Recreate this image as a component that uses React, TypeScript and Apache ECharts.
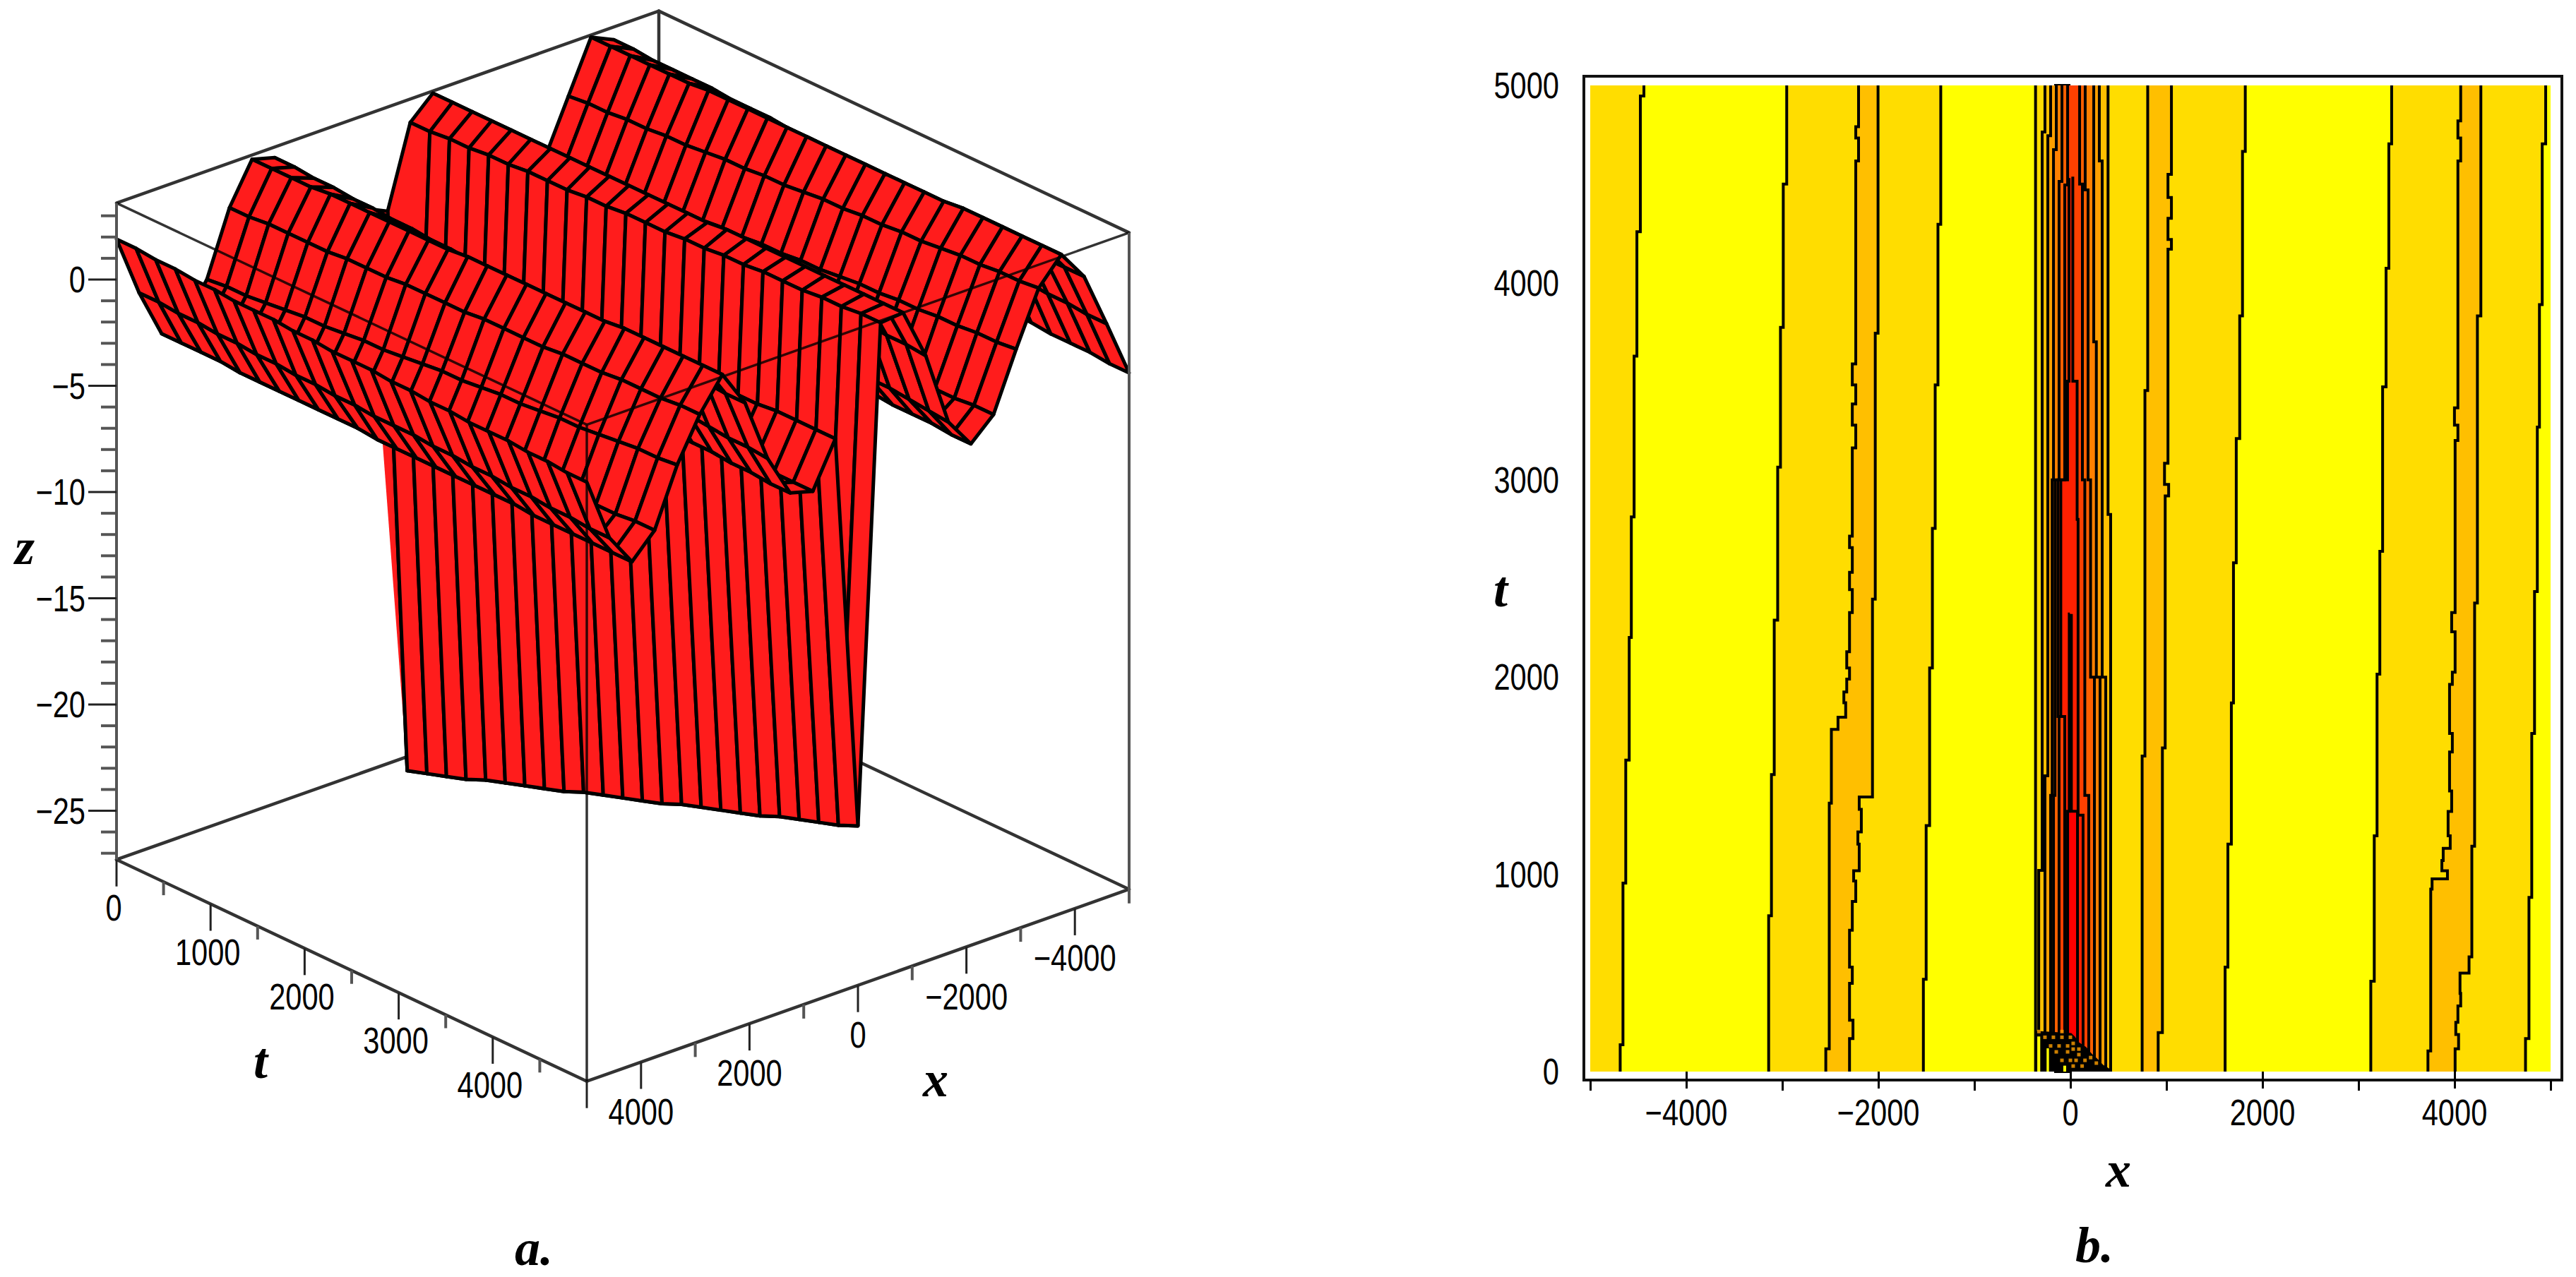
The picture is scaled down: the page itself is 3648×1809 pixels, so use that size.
import React, { useEffect, useRef } from "react";
import * as echarts from "echarts";

/* ---------- panel a: surface ---------- */
const surfaceX = [5000, 4583, 4167, 3750, 3333, 2917, 2500, 2083, 1667, 1250, 833, 417, 0, -417, -833, -1250, -1667, -2083, -2500, -2917, -3333, -3750, -4167, -4583, -5000];
const surfaceT = [0, 208, 417, 625, 833, 1042, 1250, 1458, 1667, 1875, 2083, 2292, 2500, 2708, 2917, 3125, 3333, 3542, 3750, 3958, 4167, 4375, 4583, 4792, 5000];
const surfaceZ = [
  [1.9, -1.0, -3.3, -3.1, -1.5, 1.5, 3.4, 3.1, 0.6, -2.0, -3.4, -0.8, -1.3, 2.5, 3.5, 2.4, -0.2, -2.9, -3.6, -1.3, 1.1, 3.5, 3.0, 0.8, -2.2],
  [1.9, -1.0, -3.3, -3.1, -1.4, 1.5, 3.4, 3.1, 0.5, -2.0, -3.4, -1.5, -27.2, 2.5, 3.5, 2.3, -0.3, -2.9, -3.6, -1.2, 1.2, 3.5, 3.0, 0.8, -2.2],
  [1.8, -1.1, -3.3, -3.1, -1.4, 1.6, 3.4, 3.0, 0.5, -2.1, -3.4, -1.5, -26.9, 2.6, 3.5, 2.3, -0.4, -3.0, -3.5, -1.2, 1.2, 3.5, 2.9, 0.7, -2.3],
  [1.8, -1.1, -3.3, -3.0, -1.3, 1.6, 3.4, 3.0, 0.4, -2.1, -3.4, -1.5, -26.6, 2.6, 3.5, 2.2, -0.5, -3.0, -3.5, -1.1, 1.3, 3.5, 2.9, 0.7, -2.3],
  [1.7, -1.2, -3.4, -3.0, -1.2, 1.6, 3.5, 2.9, 0.3, -2.2, -3.4, -1.5, -26.3, 2.7, 3.5, 2.2, -0.5, -3.0, -3.5, -1.1, 1.3, 3.5, 2.9, 0.6, -2.3],
  [1.7, -1.2, -3.4, -3.0, -1.1, 1.6, 3.5, 2.9, 0.3, -2.2, -3.4, -1.4, -25.9, 2.7, 3.5, 2.2, -0.6, -3.1, -3.4, -1.0, 1.4, 3.5, 2.9, 0.6, -2.4],
  [1.6, -1.3, -3.4, -3.0, -1.1, 1.7, 3.5, 2.8, 0.2, -2.3, -3.4, -1.4, -25.6, 2.8, 3.5, 2.1, -0.7, -3.1, -3.4, -1.0, 1.4, 3.6, 2.8, 0.5, -2.4],
  [1.6, -1.3, -3.4, -2.9, -1.0, 1.7, 3.5, 2.8, 0.1, -2.3, -3.4, -1.4, -25.3, 2.8, 3.5, 2.1, -0.8, -3.1, -3.3, -0.9, 1.5, 3.6, 2.8, 0.5, -2.4],
  [1.6, -1.4, -3.4, -2.9, -0.9, 1.7, 3.5, 2.7, 0.1, -2.3, -3.4, -1.4, -25.0, 2.8, 3.5, 2.0, -0.9, -3.2, -3.3, -0.9, 1.6, 3.6, 2.8, 0.4, -2.5],
  [1.5, -1.4, -3.4, -2.9, -0.9, 1.8, 3.5, 2.7, 0.0, -2.4, -3.4, -1.4, -24.7, 2.9, 3.5, 2.0, -1.0, -3.2, -3.3, -0.8, 1.6, 3.6, 2.7, 0.4, -2.5],
  [1.5, -1.5, -3.4, -2.9, -0.8, 1.8, 3.5, 2.6, -0.1, -2.4, -3.4, -1.4, -24.3, 2.9, 3.5, 1.9, -1.1, -3.2, -3.2, -0.8, 1.7, 3.6, 2.7, 0.3, -2.5],
  [1.4, -1.5, -3.5, -2.8, -0.7, 1.8, 3.6, 2.6, -0.1, -2.5, -3.4, -1.4, -24.0, 3.0, 3.5, 1.9, -1.2, -3.3, -3.2, -0.7, 1.7, 3.6, 2.7, 0.3, -2.6],
  [1.4, -1.6, -3.5, -2.8, -0.6, 1.8, 3.6, 2.5, -0.2, -2.5, -3.4, -1.4, -23.7, 3.0, 3.5, 1.8, -1.2, -3.3, -3.2, -0.7, 1.8, 3.6, 2.7, 0.3, -2.6],
  [1.4, -1.6, -3.5, -2.8, -0.6, 1.9, 3.6, 2.5, -0.3, -2.5, -3.3, -1.3, -23.4, 3.0, 3.5, 1.8, -1.3, -3.3, -3.1, -0.6, 1.9, 3.6, 2.6, 0.2, -2.6],
  [1.3, -1.6, -3.5, -2.8, -0.5, 1.9, 3.6, 2.5, -0.3, -2.6, -3.3, -1.3, -23.1, 3.1, 3.5, 1.7, -1.4, -3.4, -3.1, -0.6, 1.9, 3.6, 2.6, 0.2, -2.7],
  [1.3, -1.7, -3.5, -2.7, -0.4, 1.9, 3.6, 2.4, -0.4, -2.6, -3.3, -1.3, -22.7, 3.1, 3.6, 1.7, -1.5, -3.4, -3.0, -0.5, 2.0, 3.6, 2.6, 0.1, -2.7],
  [1.2, -1.7, -3.5, -2.7, -0.4, 1.9, 3.6, 2.4, -0.5, -2.7, -3.3, -1.3, -22.4, 3.2, 3.6, 1.6, -1.6, -3.4, -3.0, -0.4, 2.0, 3.6, 2.5, 0.1, -2.7],
  [1.2, -1.8, -3.5, -2.7, -0.3, 2.0, 3.6, 2.3, -0.5, -2.7, -3.3, -1.3, -22.1, 3.2, 3.6, 1.6, -1.7, -3.5, -3.0, -0.4, 2.1, 3.6, 2.5, 0.0, -2.8],
  [1.1, -1.8, -3.5, -2.7, -0.2, 2.0, 3.6, 2.3, -0.6, -2.8, -3.3, -1.3, -21.8, 3.3, 3.6, 1.5, -1.8, -3.5, -2.9, -0.3, 2.1, 3.6, 2.5, 0.0, -2.8],
  [1.1, -1.9, -3.6, -2.6, -0.2, 2.0, 3.7, 2.2, -0.7, -2.8, -3.3, -1.3, -21.5, 3.3, 3.6, 1.5, -1.9, -3.5, -2.9, -0.3, 2.2, 3.7, 2.4, -0.1, -2.8],
  [1.1, -1.9, -3.6, -2.6, -0.1, 2.1, 3.7, 2.2, -0.7, -2.8, -3.3, -1.3, -21.1, 3.3, 3.6, 1.4, -2.0, -3.6, -2.9, -0.2, 2.3, 3.7, 2.4, -0.1, -2.9],
  [1.0, -2.0, -3.6, -2.6, 0.0, 2.1, 3.7, 2.1, -0.8, -2.9, -3.3, -1.2, -20.8, 3.4, 3.6, 1.4, -2.0, -3.6, -2.8, -0.2, 2.3, 3.7, 2.4, -0.2, -2.9],
  [1.0, -2.0, -3.6, -2.6, 0.1, 2.1, 3.7, 2.1, -0.9, -2.9, -3.3, -1.2, -20.5, 3.4, 3.6, 1.3, -2.1, -3.6, -2.8, -0.1, 2.4, 3.7, 2.3, -0.2, -2.9],
  [0.9, -2.1, -3.6, -2.5, 0.1, 2.2, 3.7, 2.0, -0.9, -3.0, -3.3, -1.2, -20.2, 3.5, 3.6, 1.3, -2.2, -3.7, -2.7, -0.1, 2.4, 3.7, 2.3, -0.3, -3.0],
  [0.9, -2.1, -3.6, -2.5, 0.2, 2.2, 3.7, 2.0, -1.0, -3.0, -3.3, -1.2, -19.8, 3.5, 3.6, 1.2, -2.3, -3.7, -2.7, 0.0, 2.5, 3.7, 2.3, -0.3, -3.0],
];

const boxX = [5000, -5000];
const boxT = [0, 5000];
const boxZ = [-27.3, 3.6];

const zTickLabels = [0, -5, -10, -15, -20, -25];
const zMinorTicks = [3, 2, 1, -1, -2, -3, -4, -6, -7, -8, -9, -11, -12, -13, -14, -16, -17, -18, -19, -21, -22, -23, -24, -26, -27];
const tTickLabelsA = [0, 1000, 2000, 3000, 4000];
const tMinorTicksA = [500, 1500, 2500, 3500, 4500];
const xTickLabelsA = [4000, 2000, 0, -2000, -4000];
const xMinorTicksA = [3000, 1000, -1000, -3000, -5000];

/* ---------- panel b: contour lines, [x, t] ---------- */
const lineA = [[-4688, 0], [-4659, 136], [-4630, 956], [-4594, 1579], [-4572, 2201], [-4543, 2812], [-4514, 3627], [-4478, 4258], [-4441, 4946], [-4441, 5000]];
const lineB = [[-3142, 0], [-3113, 790], [-3084, 1506], [-3048, 2289], [-3019, 3065], [-2990, 3773], [-2954, 4500], [-2954, 5000]];
const lineC = [[-2547, 0], [-2511, 115], [-2489, 1361], [-2420, 1735], [-2340, 1797], [-2359, 1870], [-2329, 1925], [-2300, 1990], [-2329, 2046], [-2300, 2129], [-2271, 2327], [-2300, 2444], [-2271, 2531], [-2300, 2657], [-2271, 2715], [-2235, 3162], [-2271, 3278], [-2235, 3385], [-2271, 3482], [-2235, 3588], [-2206, 4617], [-2235, 4733], [-2206, 4791], [-2206, 5000]];
const lineD = [[-2300, 0], [-2264, 167], [-2300, 260], [-2271, 447], [-2300, 530], [-2271, 717], [-2235, 863], [-2257, 966], [-2199, 1018], [-2213, 1153], [-2177, 1215], [-2199, 1330], [-2061, 1392], [-2032, 2395], [-2003, 3744], [-2003, 5000]];
const lineE = [[-1531, 0], [-1502, 468], [-1466, 1247], [-1437, 2046], [-1408, 2754], [-1379, 3482], [-1350, 4296], [-1350, 5000]];
const lineF = [[-363, 0], [-363, 5000]];
const lineG = [[747, 0], [776, 1600], [805, 3453], [805, 5000]];
const lineH = [[914, 0], [958, 198], [987, 1641], [1023, 2919], [980, 2977], [1016, 3084], [1052, 4170], [1016, 4219], [1052, 4326], [1016, 4432], [1052, 4549], [1052, 5000]];
const lineI = [[1611, 0], [1640, 530], [1676, 1153], [1698, 1869], [1727, 2580], [1763, 3210], [1792, 3831], [1821, 4665], [1821, 5000]];
const lineJ = [[3128, 0], [3164, 458], [3193, 1195], [3222, 2015], [3251, 2638], [3287, 3472], [3316, 4073], [3345, 4704], [3345, 5000]];
const lineK = [[3723, 0], [3752, 105], [3766, 925], [3926, 977], [3868, 1018], [3882, 1070], [3955, 1132], [3933, 1195], [3970, 1319], [3948, 1423], [3977, 1620], [3948, 1714], [3977, 1963], [4006, 2025], [3970, 2230], [4006, 2327], [4035, 3200], [3999, 3278], [4035, 3365], [4064, 4617], [4035, 4733], [4064, 4820], [4064, 5000]];
const lineL = [[4006, 0], [4042, 115], [4013, 188], [4035, 250], [4064, 333], [4057, 396], [4151, 499], [4180, 582], [4209, 1143], [4238, 2376], [4274, 3831], [4274, 5000]];
const lineM = [[4739, 0], [4775, 167], [4804, 883], [4833, 1714], [4862, 2434], [4884, 3268], [4913, 3889], [4949, 4704], [4949, 5000]];
const coreL2 = [[-330, 0], [-294, 1020], [-265, 4764], [-265, 5000]];
const coreL3 = [[-265, 0], [-235, 1500], [-206, 4745], [-206, 5000]];
const coreL4 = [[-206, 0], [-190, 1400], [-176, 3000], [-147, 4674], [-147, 5000]];
const coreL5 = [[-176, 0], [-160, 1400], [-118, 3000], [-88, 4513], [-88, 5000]];
const coreL6 = [[-118, 0], [-130, 1800], [-59, 3000], [-29, 4495], [-29, 5000]];
const coreL7 = [[-59, 0], [-100, 1800], [-30, 3000], [-15, 3500], [-10, 4530]];
const coreL8 = [[-29, 0], [-12, 1320], [-6, 2320]];
const coreR2 = [[419, 0], [392, 2825], [392, 5000]];
const coreR3 = [[368, 0], [331, 2000], [301, 4617], [301, 5000]];
const coreR4 = [[309, 0], [270, 2000], [243, 3700], [243, 5000]];
const coreR5 = [[250, 0], [210, 2000], [184, 3000], [154, 4470], [154, 5000]];
const coreR6 = [[191, 0], [150, 1400], [125, 3000], [96, 4500], [96, 5000]];
const coreR7 = [[132, 0], [80, 1300], [70, 2800], [25, 3500], [10, 4530]];
const coreR8 = [[74, 0], [10, 1320], [6, 2320]];
const domainLeft = [[-5000, 0], [-5000, 5000]];
const domainRight = [[5000, 0], [5000, 5000]];

const YELLOW = "#ffff00", GOLD = "#ffdd00", AMBER = "#ffbf00";
const contourBands = [
  { l: domainLeft, r: domainRight, c: YELLOW },
  { l: domainLeft, r: lineA, c: GOLD },
  { l: lineB, r: lineE, c: GOLD },
  { l: lineF, r: lineI, c: GOLD },
  { l: lineJ, r: lineM, c: GOLD },
  { l: lineC, r: lineD, c: AMBER },
  { l: lineG, r: lineH, c: AMBER },
  { l: lineK, r: lineL, c: AMBER },
  { l: coreL2, r: coreR2, c: AMBER },
  { l: coreL3, r: coreR3, c: "#ff9f00" },
  { l: coreL4, r: coreR4, c: "#ff8000" },
  { l: coreL5, r: coreR5, c: "#ff6000" },
  { l: coreL6, r: coreR6, c: "#ff4000" },
  { l: coreL7, r: coreR7, c: "#ff2000" },
  { l: coreL8, r: coreR8, c: "#ff0000" },
];
const contourLines = [lineA, lineB, lineC, lineD, lineE, lineF, lineG, lineH, lineI, lineJ, lineK, lineL, lineM, coreL2, coreL3, coreL4, coreL5, coreL6, coreL7, coreL8, coreR2, coreR3, coreR4, coreR5, coreR6, coreR7, coreR8];

const tangleOutline = [[-370, 0], [-370, 207], [10, 195], [47, 177], [83, 150], [164, 124], [223, 90], [282, 64], [341, 34], [402, 16], [434, 5], [434, 0]];
const tangleSlits = [
  [[-345, 0], [-345, 178], [-314, 178], [-314, 0]],
  [[-248, 0], [-248, 118], [-223, 118], [-223, 0]],
  [[-74, 0], [-74, 30], [-44, 30], [-44, 0]],
];
const tangleDots = [[-328, 203], [-265, 174], [-177, 174], [-88, 203], [-88, 174], [0, 174], [29, 143], [-29, 130], [-206, 130], [-118, 130], [-29, 100], [29, 114], [88, 114], [-147, 100], [88, 86], [211, 71], [-88, 57], [0, 57], [59, 57], [152, 57], [270, 43], [29, 28], [122, 28]];

const xMajorB = [-4000, -2000, 0, 2000, 4000];
const xMinorB = [-5000, -3000, -1000, 1000, 3000, 5000];
const tMajorB = [0, 1000, 2000, 3000, 4000, 5000];

/* ---------- projection and drawing ---------- */
const project = (x: number, t: number, z: number) => {
  const u = 5000 - x;
  return [165 + 0.1332 * t + 0.0768 * u, 396 - 30.1 * z + 0.0628 * t - 0.0272 * u];
};
const NUM_FONT = '"Liberation Sans", sans-serif';
const LABEL_FONT = '"Liberation Serif", serif';
const minus = (v: number) => (v < 0 ? "\u2212" + Math.abs(v) : String(v));
const tickText = (text: string, x: number, y: number, align: string) => ({
  type: "text", x, y, scaleX: 0.8, silent: true,
  style: { text, fontFamily: NUM_FONT, fontSize: 52, fill: "#000", textAlign: align, textVerticalAlign: "middle" },
});

const stepPts = (line: number[][]) => {
  const out: number[][] = [];
  line.forEach((p, i) => {
    if (i > 0) out.push([line[i - 1][0], p[1]]);
    out.push(p);
  });
  return out;
};

export default function App() {
  const ref = useRef<HTMLDivElement>(null);
  useEffect(() => {
    document.body.style.margin = "0";
    document.body.style.overflow = "hidden";
    const chart = echarts.init(ref.current!, undefined, { renderer: "svg" });

    const surfaceCells: number[][] = [];
    for (let c = surfaceX.length - 2; c >= 0; c--) {
      for (let r = 0; r < surfaceT.length - 1; r++) surfaceCells.push([c, r]);
    }
    const [x0, x1] = boxX, [t0, t1] = boxT, [zb, zt] = boxZ;
    const backEdges = [
      [x0, t0, zt, x1, t0, zt], [x1, t0, zt, x1, t1, zt],
      [x0, t0, zb, x1, t0, zb], [x1, t0, zb, x1, t1, zb],
      [x0, t0, zb, x0, t1, zb], [x0, t1, zb, x1, t1, zb],
      [x1, t0, zb, x1, t0, zt],
    ];
    const frontEdges = [
      [x0, t0, zt, x0, t1, zt], [x0, t1, zt, x1, t1, zt],
      [x0, t1, zb, x0, t1, zt],
    ];
    const sideEdges = [[x0, t0, zb, x0, t0, zt], [x1, t1, zb, x1, t1, zt]];

    // ticks: [x, t, z, dx, dy, heavy]
    const ticks: number[][] = [];
    zTickLabels.forEach((z) => ticks.push([x0, t0, z, -40, 0, 0]));
    zMinorTicks.forEach((z) => ticks.push([x0, t0, z, -22, 0, 1]));
    [...tTickLabelsA, t1].forEach((t) => ticks.push([x0, t, zb, 0, 38, 0]));
    tMinorTicksA.forEach((t) => ticks.push([x0, t, zb, 0, 19, 1]));
    xTickLabelsA.forEach((x) => ticks.push([x, t1, zb, 0, 38, 0]));
    xMinorTicksA.forEach((x) => ticks.push([x, t1, zb, 0, 20, 1]));

    const labels: { text: string; p: number[]; dx: number; dy: number; align: string }[] = [];
    zTickLabels.forEach((z) => labels.push({ text: minus(z), p: project(x0, t0, z), dx: -44, dy: 0, align: "right" }));
    tTickLabelsA.forEach((t) => labels.push({ text: minus(t), p: project(x0, t, zb), dx: -4, dy: 68, align: "center" }));
    xTickLabelsA.forEach((x) => labels.push({ text: minus(x), p: project(x, t1, zb), dx: 0, dy: 70, align: "center" }));

    const customA = (data: number[][], renderItem: any, z = 2) => ({
      type: "custom" as const, coordinateSystem: "cartesian2d", xAxisIndex: 0, yAxisIndex: 0,
      silent: true, clip: false, z, data, renderItem,
    });
    const edgeRender = (edges: number[][], style: any) => (params: any, api: any) => {
      const e = edges[params.dataIndex];
      const a = api.coord(project(e[0], e[1], e[2]));
      const b = api.coord(project(e[3], e[4], e[5]));
      return { type: "line", shape: { x1: a[0], y1: a[1], x2: b[0], y2: b[1] }, style };
    };

    const customB = (data: any[], renderItem: any, z = 2, clip = true) => ({
      type: "custom" as const, coordinateSystem: "cartesian2d", xAxisIndex: 1, yAxisIndex: 1,
      silent: true, clip, z, data, renderItem,
    });
    const bandPolygon = (pts: number[][], fill: string, api: any) => ({
      type: "polygon",
      shape: { points: pts.map((p) => api.coord(p)) },
      style: { fill, stroke: null },
    });

    chart.setOption({
      animation: false,
      backgroundColor: "#ffffff",
      grid: [
        { left: 0, top: 0, width: 1800, height: 1809, show: false },
        { left: 2252, top: 121, width: 1360, height: 1397, show: false },
      ],
      xAxis: [
        { type: "value", gridIndex: 0, min: 0, max: 1800, show: false },
        {
          type: "value", gridIndex: 1, min: -5000, max: 5000, offset: 12, position: "bottom",
          axisLine: { show: false }, splitLine: { show: false },
          axisTick: { show: true, length: 24, customValues: xMajorB, lineStyle: { color: "#000", width: 3 } },
          axisLabel: { show: false },
        },
        {
          type: "value", gridIndex: 1, min: -5000, max: 5000, offset: 12, position: "bottom",
          axisLine: { show: false }, splitLine: { show: false },
          axisTick: { show: true, length: 15, customValues: xMinorB, lineStyle: { color: "#000", width: 3 } },
          axisLabel: { show: false },
        },
      ],
      yAxis: [
        { type: "value", gridIndex: 0, min: 0, max: 1809, inverse: true, show: false },
        {
          type: "value", gridIndex: 1, min: 0, max: 5000, interval: 1000, offset: 9, position: "left",
          axisLine: { show: false }, splitLine: { show: false }, minorSplitLine: { show: false },
          axisTick: { show: true, length: 23, lineStyle: { color: "#000", width: 4 } },
          minorTick: { show: true, splitNumber: 2, length: 14, lineStyle: { color: "#000", width: 4 } },
          axisLabel: { show: false },
        },
      ],
      series: [
        customA(backEdges.map((_, i) => [i, 0]), edgeRender(backEdges, { stroke: "#333333", lineWidth: 4.5, lineCap: "round" }), 1),
        customA(surfaceCells, (_: any, api: any) => {
          const c = api.value(0), r = api.value(1);
          const pt = (cc: number, rr: number) => api.coord(project(surfaceX[cc], surfaceT[rr], surfaceZ[rr][cc]));
          const quad = {
            type: "polygon",
            shape: { points: [pt(c, r), pt(c + 1, r), pt(c + 1, r + 1), pt(c, r + 1)] },
            style: { fill: "#ff1c1c", stroke: "#000000", lineWidth: 5, lineJoin: "round" },
          };
          if (c === 11 && r === 0) {
            // the first cell of the wall is split along its diagonal: its far half shows as a bare red sliver
            return {
              type: "group",
              children: [
                { type: "polygon", shape: { points: [pt(c, r), pt(c + 1, r + 1), pt(c, r + 1)] }, style: { fill: "#ff1c1c", stroke: null } },
                quad,
              ],
            };
          }
          return quad;
        }, 2),
        customA(frontEdges.map((_, i) => [i, 0]), edgeRender(frontEdges, { stroke: "rgba(0,0,0,0.8)", lineWidth: 3.5 }), 3),
        customA(sideEdges.map((_, i) => [i, 0]), edgeRender(sideEdges, { stroke: "#555555", lineWidth: 4 }), 3),
        customA(ticks.map((_, i) => [i, 0]), (params: any, api: any) => {
          const k = ticks[params.dataIndex];
          const a = api.coord(project(k[0], k[1], k[2]));
          return {
            type: "line", shape: { x1: a[0], y1: a[1], x2: a[0] + k[3], y2: a[1] + k[4] },
            style: { stroke: k[5] ? "#555555" : "#222222", lineWidth: k[5] ? 4 : 3 },
          };
        }, 3),
        customA(labels.map((_, i) => [i, 0]), (params: any, api: any) => {
          const l = labels[params.dataIndex];
          const a = api.coord(l.p);
          return tickText(l.text, a[0] + l.dx, a[1] + l.dy, l.align);
        }, 4),

        customB(contourBands.map((_, i) => [i, 0]), (params: any, api: any) => {
          const b = contourBands[params.dataIndex];
          return bandPolygon([...stepPts(b.l), ...stepPts(b.r).reverse()], b.c, api);
        }, 1),
        ...contourLines.map((line) => ({
          type: "line" as const, xAxisIndex: 1, yAxisIndex: 1, data: line, step: "start", showSymbol: false, symbol: "none",
          silent: true, z: 2, lineStyle: { color: "#000", width: 4, cap: "butt", join: "miter" },
        })),
        customB([[0, 0]], (_: any, api: any) => bandPolygon(tangleOutline, "#000000", api), 3),
        customB(tangleSlits.map((_, i) => [i, 0]), (params: any, api: any) => bandPolygon(tangleSlits[params.dataIndex], YELLOW, api), 4),
        {
          type: "scatter" as const, xAxisIndex: 1, yAxisIndex: 1, data: tangleDots, symbol: "rect", symbolSize: 5,
          silent: true, z: 5, itemStyle: { color: "#ff9f00" },
        },
        customB(xMajorB.map((_, i) => [i, 0]), (params: any, api: any) => {
          const v = xMajorB[params.dataIndex];
          const a = api.coord([v, 0]);
          return tickText(minus(v), a[0], a[1] + 58, "center");
        }, 6, false),
        customB(tMajorB.map((_, i) => [i, 0]), (params: any, api: any) => {
          const v = tMajorB[params.dataIndex];
          const a = api.coord([-5000, v]);
          return tickText(String(v), a[0] - 44, a[1], "right");
        }, 6, false),
      ],
      graphic: {
        elements: [
          { type: "rect", silent: true, shape: { x: 2243, y: 108, width: 1385, height: 1422 }, style: { fill: "transparent", stroke: "#111", lineWidth: 4 } },
          ...[
            { text: "z", x: 35, y: 775 }, { text: "t", x: 369, y: 1503 }, { text: "x", x: 1325, y: 1529 }, { text: "a.", x: 756, y: 1768 },
            { text: "t", x: 2125, y: 835 }, { text: "x", x: 3000, y: 1657 }, { text: "b.", x: 2966, y: 1764 },
          ].map((g) => ({
            type: "text", silent: true, x: g.x, y: g.y,
            style: { text: g.text, fontFamily: LABEL_FONT, fontWeight: "bold", fontStyle: "italic", fontSize: 72, fill: "#000", textAlign: "center", textVerticalAlign: "middle" },
          })),
        ],
      },
    });
    return () => chart.dispose();
  }, []);
  return <div ref={ref} style={{ position: "absolute", left: 0, top: 0, width: 3648, height: 1809 }} />;
}
